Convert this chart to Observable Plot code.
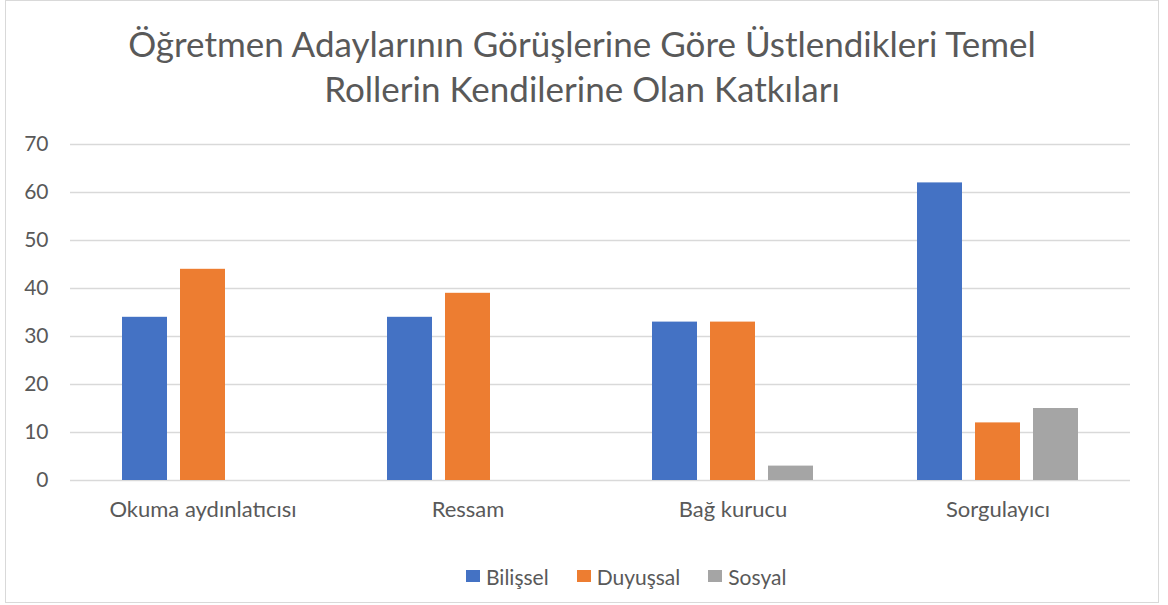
<!DOCTYPE html>
<html>
<head>
<meta charset="utf-8">
<script src="https://cdn.jsdelivr.net/npm/d3@7"></script>
<script src="https://cdn.jsdelivr.net/npm/@observablehq/plot@0.6"></script>
<style>
  html, body { margin: 0; padding: 0; background: #fff; }
  body { font-family: Lato, "Open Sans", sans-serif; color: #595959; }
  #wrap { position: relative; margin-left: 5px; width: 1154px; height: 603px; border: 1px solid #d9d9d9; box-sizing: border-box; overflow: hidden; }
  #title { height: 119px; box-sizing: border-box; padding-top: 20px; text-align: center; font-size: 35px; line-height: 45px; color: #595959; }
  #legend { position: absolute; top: 560px; left: 460px; height: 30px; display: flex; align-items: center; font-size: 21px; color: #595959; }
  .item { display: flex; align-items: center; margin-right: 28px; }
  .sw { width: 14px; height: 12px; margin-right: 6px; }
  svg { display: block; }
</style>
</head>
<body>
<div id="wrap">
  <div id="title"></div>
  <div id="chart"></div>
  <div id="legend"></div>
</div>
<script>
const titleLines = ["Öğretmen Adaylarının Görüşlerine Göre Üstlendikleri Temel", "Rollerin Kendilerine Olan Katkıları"];
const categories = ["Okuma aydınlatıcısı", "Ressam", "Bağ kurucu", "Sorgulayıcı"];
const series = ["Bilişsel", "Duyuşsal", "Sosyal"];
const colors = ["#4472C4", "#ED7D31", "#A5A5A5"];
const bilissel = [34, 34, 33, 62];
const duyussal = [44, 39, 33, 12];
const sosyal = [0, 0, 3, 15];
const yTicks = [0, 10, 20, 30, 40, 50, 60, 70];

const seriesValues = [bilissel, duyussal, sosyal];
const data = [];
categories.forEach((c, i) => {
  series.forEach((s, j) => data.push({category: c, series: s, value: seriesValues[j][i]}));
});

document.getElementById("title").innerHTML = titleLines.map(t => `<div>${t}</div>`).join("");

const chart = Plot.plot({
  width: 1152,
  height: 421,
  marginTop: 24,
  marginBottom: 61,
  marginLeft: 63,
  marginRight: 27,
  style: {fontFamily: "Lato, 'Open Sans', sans-serif", fontSize: "20px", color: "#595959", background: "transparent"},
  fx: {domain: categories, padding: 0},
  x: {domain: series, paddingInner: 0.22, paddingOuter: 0.86, axis: null},
  y: {domain: [0, 70]},
  color: {domain: series, range: colors},
  marks: [
    Plot.gridY(yTicks, {stroke: "#d9d9d9", strokeOpacity: 1, strokeWidth: 1.5}),
    Plot.axisY(yTicks, {tickSize: 0, tickPadding: 22, label: null, fontSize: 21, fill: "#595959"}),
    Plot.axisFx({anchor: "bottom", tickSize: 0, tickPadding: 21, label: null, fontSize: 22, fill: "#595959"}),
    Plot.barY(data, {fx: "category", x: "series", y: "value", fill: "series"})
  ]
});
document.getElementById("chart").appendChild(chart);

const legend = document.getElementById("legend");
series.forEach((s, i) => {
  const it = document.createElement("div");
  it.className = "item";
  it.innerHTML = `<div class="sw" style="background:${colors[i]}"></div><span>${s}</span>`;
  legend.appendChild(it);
});
</script>
</body>
</html>
